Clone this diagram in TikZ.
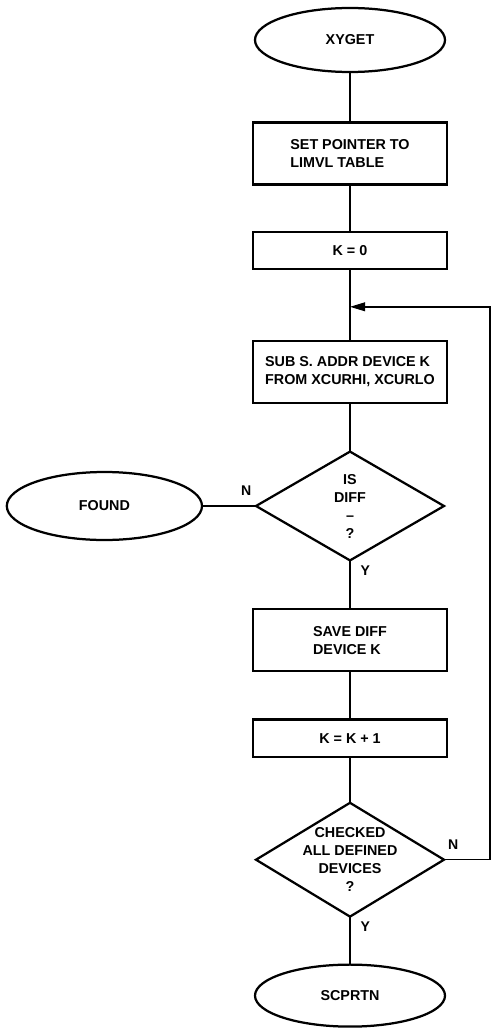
\documentclass[tikz,border=0pt]{standalone}
\usepackage{fontspec}
\setmainfont{Liberation Sans}
\usepackage{tikz}
\usetikzlibrary{shapes, arrows.meta, positioning, calc}
\tikzset{
  fcnode/.style={draw, line width=1.6pt, align=center, font=\bfseries\fontsize{10.2}{12.8}\selectfont, inner sep=2pt, outer sep=0pt},
  termnode/.style={fcnode, ellipse, minimum width=4.75cm, minimum height=1.6cm},
  procnode/.style={fcnode, rectangle, align=left, minimum width=4.85cm, minimum height=1.55cm},
  setnode/.style={procnode, minimum height=0.93cm},
  decnode/.style={fcnode, diamond, minimum width=4.7cm, minimum height=2.72cm, inner sep=-8pt},
  flowline/.style={line width=1.1pt},
  yn/.style={font=\bfseries\fontsize{10}{12}\selectfont, inner sep=1pt},
}
\begin{document}
\begin{tikzpicture}
  \useasboundingbox (0,0) rectangle (12.525,-25.725);
  \node[termnode] (xyget) at (8.75,-1.0) {XYGET};
  \node[procnode, below=1.26cm of xyget] (setptr) {SET POINTER TO\\LIMVL TABLE};
  \node[setnode, below=1.19cm of setptr] (kzero) {K = 0};
  \coordinate[below=0.94cm of kzero] (join);
  \node[procnode, below=0.85cm of join] (subaddr) {SUB S. ADDR DEVICE K\\FROM XCURHI, XCURLO};
  \node[decnode, below=1.22cm of subaddr] (isdiff) {IS\\DIFF\\--\\?};
  \node[termnode, minimum width=4.88cm, minimum height=1.7cm, left=1.35cm of isdiff] (found) {FOUND};
  \node[procnode, below=1.22cm of isdiff] (savediff) {SAVE DIFF\\DEVICE K};
  \node[setnode, below=1.21cm of savediff] (kinc) {K = K + 1};
  \node[decnode, below=1.15cm of kinc] (chkall) {CHECKED\\ALL DEFINED\\DEVICES\\?};
  \node[termnode, minimum height=1.55cm, below=1.2cm of chkall] (scprtn) {SCPRTN};
  \coordinate[right=3.5cm of join] (loopx);
  % main column
  \draw[flowline] (xyget)--(setptr); \draw[flowline] (setptr)--(kzero);
  \draw[flowline] (kzero)--(subaddr); \draw[flowline] (subaddr)--(isdiff);
  \draw[flowline] (isdiff) -- node[yn, pos=0.2, right=6pt] {Y} (savediff);
  \draw[flowline] (isdiff) -- node[yn, pos=0.18, above=6pt] {N} (found);
  \draw[flowline] (savediff)--(kinc); \draw[flowline] (kinc)--(chkall);
  \draw[flowline] (chkall) -- node[yn, pos=0.2, right=6pt] {Y} (scprtn);
  % loop back
  \draw[flowline, -{Triangle[length=0.38cm, width=0.22cm]}] (chkall.east) -| node[yn, pos=0.1, above=6pt] {N} (loopx) -- (join);
\end{tikzpicture}
\end{document}
